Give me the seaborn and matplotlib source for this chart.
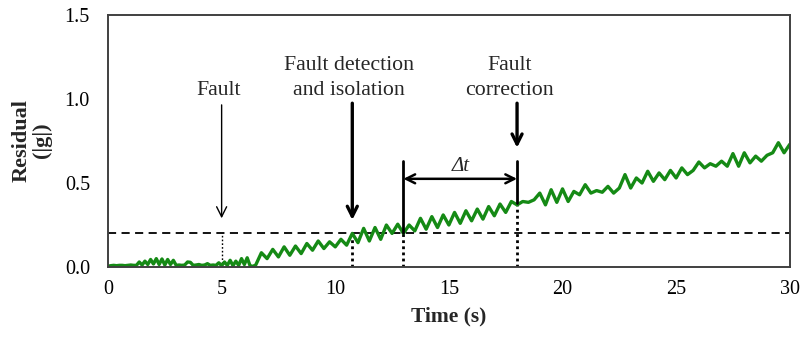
import numpy as np
import pandas as pd
import matplotlib
matplotlib.use("Agg")
import matplotlib.pyplot as plt
import seaborn as sns

# Residual before the fault grows (0 to 6.375 s, 0.125 s spacing)
early_t0, early_dt = 0.0, 0.125
early_residual = [
    0.005, 0.008, 0.010, 0.008, 0.010, 0.010, 0.008, 0.010,
    0.012, 0.010, 0.010, 0.030, 0.012, 0.035, 0.015, 0.045,
    0.018, 0.050, 0.015, 0.048, 0.012, 0.045, 0.015, 0.040,
    0.010, 0.012, 0.010, 0.012, 0.030, 0.028, 0.010, 0.012,
    0.015, 0.010, 0.012, 0.020, 0.010, 0.012, 0.010, 0.025,
    0.008, 0.030, 0.010, 0.040, 0.008, 0.035, 0.010, 0.050,
    0.015, 0.055, 0.008, 0.004,
]

# Residual after the fault (6.5 to 30 s, 0.25 s spacing)
late_t0, late_dt = 6.5, 0.25
late_residual = [
    0.012, 0.085, 0.050, 0.105, 0.060, 0.120, 0.070, 0.125,
    0.080, 0.140, 0.100, 0.155, 0.110, 0.150, 0.120, 0.165,
    0.130, 0.200, 0.145, 0.230, 0.155, 0.235, 0.165, 0.250,
    0.200, 0.255, 0.200, 0.250, 0.215, 0.290, 0.225, 0.300,
    0.235, 0.310, 0.250, 0.325, 0.260, 0.335, 0.275, 0.345,
    0.285, 0.360, 0.305, 0.375, 0.325, 0.390, 0.370, 0.390,
    0.385, 0.400, 0.440, 0.370, 0.460, 0.385, 0.465, 0.390,
    0.450, 0.430, 0.490, 0.440, 0.455, 0.445, 0.480, 0.440,
    0.470, 0.550, 0.470, 0.530, 0.500, 0.570, 0.510, 0.560,
    0.520, 0.575, 0.530, 0.590, 0.550, 0.575, 0.625, 0.590,
    0.615, 0.600, 0.630, 0.600, 0.675, 0.600, 0.680, 0.620,
    0.660, 0.630, 0.665, 0.680, 0.740, 0.680, 0.730,
]

threshold = 0.2
t_fault = 5.0
t_detect = 10.75
t_start = 13.0
t_correct = 18.0
residual_at_correct = 0.38
bracket_top = 0.63
delta_y = 0.525

x_ticks = [0, 5, 10, 15, 20, 25, 30]
y_ticks = [0.0, 0.5, 1.0, 1.5]

t_early = early_t0 + early_dt * np.arange(len(early_residual))
t_late = late_t0 + late_dt * np.arange(len(late_residual))
df = pd.DataFrame({
    "Time": np.concatenate([t_early, t_late]),
    "Residual": early_residual + late_residual,
})

sns.set_style("white")
plt.rcParams["font.family"] = ["Liberation Serif", "DejaVu Serif"]

fig = plt.figure(figsize=(8.03, 3.38), dpi=100)
ax = fig.add_axes([0.1345, 0.210, 0.849, 0.7456])

frame = "#404040"
ink = "black"

# threshold and event markers
ax.axhline(threshold, color=ink, lw=1.3, ls=(0, (4.5, 3)), zorder=1)
ax.plot([t_fault, t_fault], [0, threshold], color=ink, lw=1.0, ls=(0, (1.2, 1.5)), zorder=1)
ax.plot([t_detect, t_detect], [0, threshold], color=ink, lw=2.0, ls=(0, (1, 1.2)), zorder=1)
ax.plot([t_start, t_start], [0, threshold], color=ink, lw=2.0, ls=(0, (1, 1.2)), zorder=1)
ax.plot([t_correct, t_correct], [0, residual_at_correct], color=ink, lw=2.0, ls=(0, (1, 1.2)), zorder=1)
ax.plot([t_start, t_start], [threshold, bracket_top], color=ink, lw=2.0, zorder=3)
ax.plot([t_correct, t_correct], [residual_at_correct, bracket_top], color=ink, lw=2.0, zorder=3)

sns.lineplot(data=df, x="Time", y="Residual", color="#158a15", lw=2.4, ax=ax, zorder=2)

# delta-t span
ax.annotate("", xy=(t_start, delta_y), xytext=(t_correct, delta_y),
            arrowprops=dict(arrowstyle="<->", color=ink, lw=1.8,
                            mutation_scale=16, shrinkA=0, shrinkB=0))
ax.text((t_start + t_correct) / 2, 0.60, "Δt", ha="center", va="center",
        fontsize=15, fontstyle="italic")

# event arrows
ax.annotate("", xy=(t_fault, 0.29), xytext=(t_fault, 0.965),
            arrowprops=dict(arrowstyle="->", color=ink, lw=1.0,
                            mutation_scale=18, shrinkA=0, shrinkB=0))
ax.annotate("", xy=(t_detect, 0.28), xytext=(t_detect, 0.975),
            arrowprops=dict(arrowstyle="->", color=ink, lw=2.4,
                            mutation_scale=18, shrinkA=0, shrinkB=0))
ax.annotate("", xy=(t_correct, 0.71), xytext=(t_correct, 0.975),
            arrowprops=dict(arrowstyle="->", color=ink, lw=2.4,
                            mutation_scale=18, shrinkA=0, shrinkB=0))

fs = 15.7
ax.text(4.87, 1.05, "Fault", ha="center", va="center", fontsize=fs)
ax.text(10.62, 1.20, "Fault detection", ha="center", va="center", fontsize=fs)
ax.text(10.62, 1.05, "and isolation", ha="center", va="center", fontsize=fs)
ax.text(17.68, 1.20, "Fault", ha="center", va="center", fontsize=fs)
ax.text(17.68, 1.05, "correction", ha="center", va="center", fontsize=fs)

ax.set_xlim(0, 30)
ax.set_ylim(0, 1.5)
ax.set_xticks(x_ticks)
ax.set_yticks(y_ticks)
ax.set_xticklabels([str(v) for v in x_ticks])
ax.set_yticklabels([f"{v:.1f}" for v in y_ticks])
ax.tick_params(axis="both", direction="in", length=5, width=1.2, color=frame,
               labelsize=14.5, labelcolor=ink)
ax.tick_params(axis="y", pad=13)
ax.tick_params(axis="x", pad=9)
ax.set_xlabel("Time (s)", fontsize=15.5, fontweight="bold", labelpad=6)
ax.set_ylabel("")
fig.text(0.040, 0.585, "Residual\n(|g|)", rotation=90, ha="center", va="center",
         fontsize=16, fontweight="bold", linespacing=1.05, multialignment="center")

for side in ["left", "right", "top", "bottom"]:
    ax.spines[side].set_visible(True)
    ax.spines[side].set_color(frame)
    ax.spines[side].set_linewidth(1.4)

fig.savefig("out.png", dpi=100)
